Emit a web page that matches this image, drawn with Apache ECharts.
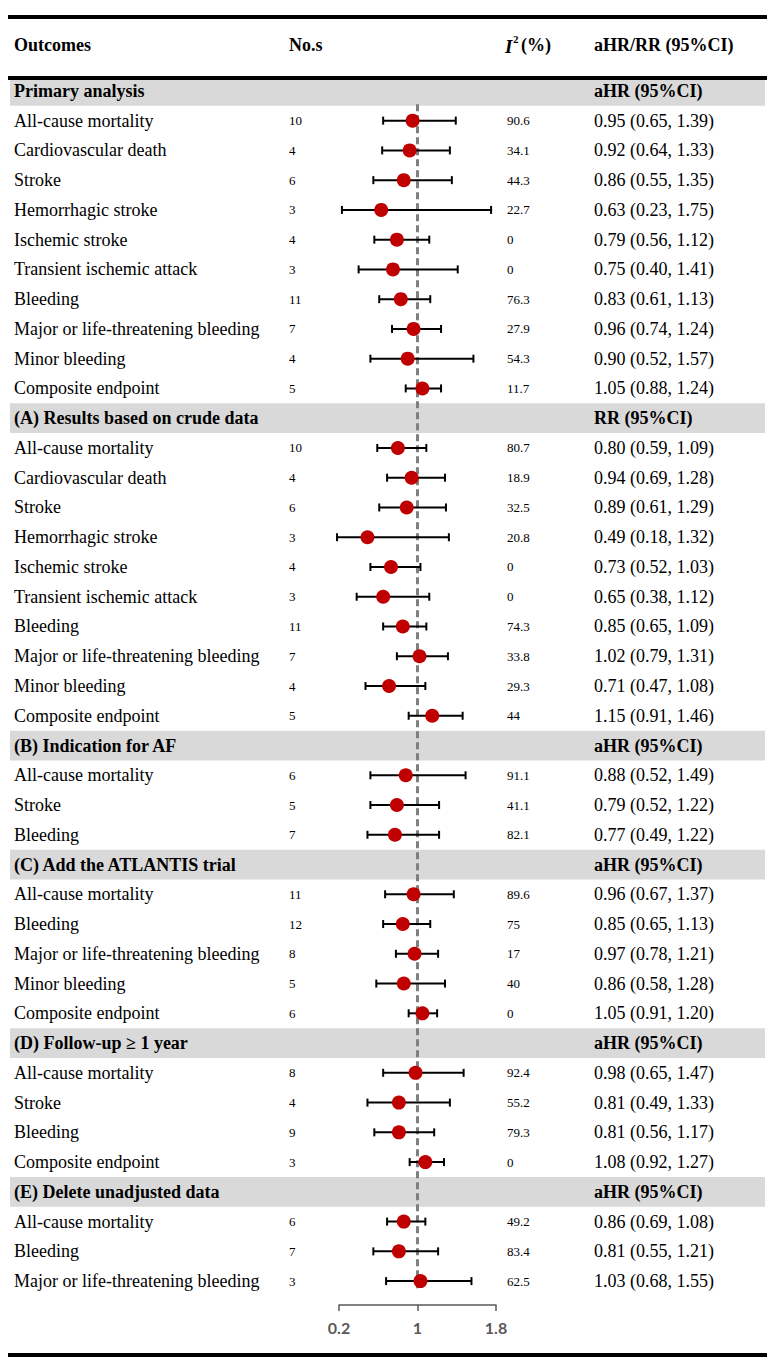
<!DOCTYPE html>
<html>
<head>
<meta charset="utf-8">
<script src="https://cdn.jsdelivr.net/npm/echarts@6/dist/echarts.min.js"></script>
<style>
html,body{margin:0;padding:0;background:#fff;}
#chart{width:775px;height:1369px;}
</style>
</head>
<body>
<div id="chart"></div>
<script>
const categories = ['Primary analysis','All-cause mortality','Cardiovascular death','Stroke','Hemorrhagic stroke','Ischemic stroke','Transient ischemic attack','Bleeding','Major or life-threatening bleeding','Minor bleeding','Composite endpoint',
'(A) Results based on crude data','All-cause mortality','Cardiovascular death','Stroke','Hemorrhagic stroke','Ischemic stroke','Transient ischemic attack','Bleeding','Major or life-threatening bleeding','Minor bleeding','Composite endpoint',
'(B) Indication for AF','All-cause mortality','Stroke','Bleeding',
'(C) Add the ATLANTIS trial','All-cause mortality','Bleeding','Major or life-threatening bleeding','Minor bleeding','Composite endpoint',
'(D) Follow-up \u2265 1 year','All-cause mortality','Stroke','Bleeding','Composite endpoint',
'(E) Delete unadjusted data','All-cause mortality','Bleeding','Major or life-threatening bleeding'];
const nos = [null,10,4,6,3,4,3,11,7,4,5, null,10,4,6,3,4,3,11,7,4,5, null,6,5,7, null,11,12,8,5,6, null,8,4,9,3, null,6,7,3];
const i2 = [null,90.6,34.1,44.3,22.7,0,0,76.3,27.9,54.3,11.7, null,80.7,18.9,32.5,20.8,0,0,74.3,33.8,29.3,44, null,91.1,41.1,82.1, null,89.6,75,17,40,0, null,92.4,55.2,79.3,0, null,49.2,83.4,62.5];
const est = [null,0.95,0.92,0.86,0.63,0.79,0.75,0.83,0.96,0.90,1.05, null,0.80,0.94,0.89,0.49,0.73,0.65,0.85,1.02,0.71,1.15, null,0.88,0.79,0.77, null,0.96,0.85,0.97,0.86,1.05, null,0.98,0.81,0.81,1.08, null,0.86,0.81,1.03];
const lo = [null,0.65,0.64,0.55,0.23,0.56,0.40,0.61,0.74,0.52,0.88, null,0.59,0.69,0.61,0.18,0.52,0.38,0.65,0.79,0.47,0.91, null,0.52,0.52,0.49, null,0.67,0.65,0.78,0.58,0.91, null,0.65,0.49,0.56,0.92, null,0.69,0.55,0.68];
const hi = [null,1.39,1.33,1.35,1.75,1.12,1.41,1.13,1.24,1.57,1.24, null,1.09,1.28,1.29,1.32,1.03,1.12,1.09,1.31,1.08,1.46, null,1.49,1.22,1.22, null,1.37,1.13,1.21,1.28,1.20, null,1.47,1.33,1.17,1.27, null,1.08,1.21,1.55];
const sectionMeasure = ['aHR (95%CI)','RR (95%CI)','aHR (95%CI)','aHR (95%CI)','aHR (95%CI)','aHR (95%CI)'];
const headerLabels = ['Outcomes','No.s','I','2','(%)','aHR/RR (95%CI)'];
const xTicks = [0.2, 1, 1.8];

const SERIF = '"Liberation Serif","Times New Roman",serif';
const isSec = est.map(v => v == null);
let k = 0;
const effText = est.map((v, i) => isSec[i] ? sectionMeasure[k++] :
  v.toFixed(2) + ' (' + lo[i].toFixed(2) + ', ' + hi[i].toFixed(2) + ')');
const rowIds = categories.map((c, i) => String(i));

const chart = echarts.init(document.getElementById('chart'), null, {renderer: 'svg'});

const richStyles = {
  b: {fontFamily: SERIF, fontWeight: 'bold', fontSize: 18, color: '#000'},
  n: {fontFamily: SERIF, fontSize: 18, color: '#000'},
  s: {fontFamily: SERIF, fontSize: 13, color: '#000'}
};
function catAxis(position, margin, fmt) {
  return {
    gridIndex: 1, type: 'category', data: rowIds, inverse: true, position: position, z: 20,
    axisLine: {show: false}, axisTick: {show: false}, splitLine: {show: false},
    axisLabel: {interval: 0, align: 'left', margin: margin, hideOverlap: false,
      formatter: (v) => fmt(Number(v)), rich: richStyles}
  };
}

const option = {
  animation: false,
  backgroundColor: '#fff',
  grid: [
    {left: 10, right: 10, top: 76, height: 1220, containLabel: false},
    {left: 339, width: 157, top: 76, height: 1220, containLabel: false}
  ],
  xAxis: [
    {gridIndex: 0, type: 'value', min: 0, max: 1, show: false},
    {gridIndex: 1, type: 'value', min: 0.2, max: 1.8, position: 'bottom', offset: 9, z: 20,
      axisLine: {show: true, lineStyle: {color: '#595959', width: 1.5}},
      axisTick: {show: true, length: 6, customValues: xTicks, lineStyle: {color: '#595959', width: 1.5}},
      axisLabel: {customValues: xTicks, margin: 14, fontFamily: 'Lato', fontWeight: 'bold', fontSize: 16, color: '#595959',
        formatter: v => String(v)},
      splitLine: {show: false}}
  ],
  yAxis: [
    {gridIndex: 0, type: 'category', data: rowIds, inverse: true, show: false},
    catAxis('left', 325, i => isSec[i] ? '{b|' + categories[i] + '}' : '{n|' + categories[i] + '}'),
    catAxis('left', 50, i => nos[i] == null ? '' : '{s|' + nos[i] + '}'),
    catAxis('right', 11, i => i2[i] == null ? '' : '{s|' + i2[i] + '}'),
    catAxis('right', 98, i => isSec[i] ? '{b|' + effText[i] + '}' : '{n|' + effText[i] + '}')
  ],
  series: [
    {
      type: 'bar', xAxisIndex: 0, yAxisIndex: 0, barWidth: '100%', silent: true,
      itemStyle: {color: '#d9d9d9'},
      data: isSec.map(s => s ? 1 : '-'), z: 1
    },
    {
      type: 'custom', xAxisIndex: 1, yAxisIndex: 1, silent: true, z: 3,
      data: [[1, 0]],
      encode: {x: 0, y: 1},
      renderItem: (params, api) => {
        const band = api.size([0, 1])[1];
        const top = api.coord([api.value(0), 0]);
        const bot = api.coord([api.value(0), categories.length - 1]);
        return {type: 'line', shape: {x1: top[0], y1: top[1] + band * 0.45, x2: bot[0], y2: bot[1] + band * 0.35},
          style: {stroke: '#7f7f7f', lineWidth: 3, lineDash: [7, 4]}};
      }
    },
    {
      type: 'custom', xAxisIndex: 1, yAxisIndex: 1, silent: true, z: 4,
      data: est.map((v, i) => v == null ? null : [lo[i], hi[i], i]).filter(d => d),
      encode: {x: [0, 1], y: 2},
      renderItem: (params, api) => {
        const y = api.value(2);
        const a = api.coord([api.value(0), y]);
        const b = api.coord([api.value(1), y]);
        const h = 4;
        const st = {stroke: '#000', lineWidth: 2};
        return {type: 'group', children: [
          {type: 'line', shape: {x1: a[0], y1: a[1], x2: b[0], y2: b[1]}, style: st},
          {type: 'line', shape: {x1: a[0], y1: a[1] - h, x2: a[0], y2: a[1] + h}, style: st},
          {type: 'line', shape: {x1: b[0], y1: b[1] - h, x2: b[0], y2: b[1] + h}, style: st}
        ]};
      }
    },
    {
      type: 'scatter', xAxisIndex: 1, yAxisIndex: 1, z: 5, silent: true,
      symbol: 'circle', symbolSize: 14,
      itemStyle: {color: '#c00000', opacity: 1},
      data: est.map((v, i) => v == null ? null : [v, i]).filter(d => d)
    }
  ],
  graphic: [
    {type: 'rect', z: 100, shape: {x: 8, y: 15, width: 759, height: 4}, style: {fill: '#000'}},
    {type: 'rect', z: 100, shape: {x: 8, y: 76, width: 759, height: 4}, style: {fill: '#000'}},
    {type: 'rect', z: 100, shape: {x: 8, y: 1353, width: 759, height: 4}, style: {fill: '#000'}},
    {type: 'text', z: 100, x: 14, y: 45, style: {text: headerLabels[0], font: 'bold 18px ' + SERIF, fill: '#000', verticalAlign: 'middle', textVerticalAlign: 'middle'}},
    {type: 'text', z: 100, x: 289, y: 45, style: {text: headerLabels[1], font: 'bold 18px ' + SERIF, fill: '#000', verticalAlign: 'middle', textVerticalAlign: 'middle'}},
    {type: 'text', z: 100, x: 505, y: 46, style: {text: headerLabels[2], font: 'italic bold 19px ' + SERIF, fill: '#000', verticalAlign: 'middle', textVerticalAlign: 'middle'}},
    {type: 'text', z: 100, x: 513, y: 39, style: {text: headerLabels[3], font: 'bold 11px ' + SERIF, fill: '#000', verticalAlign: 'middle', textVerticalAlign: 'middle'}},
    {type: 'text', z: 100, x: 521, y: 45, style: {text: headerLabels[4], font: 'bold 18px ' + SERIF, fill: '#000', verticalAlign: 'middle', textVerticalAlign: 'middle'}},
    {type: 'text', z: 100, x: 594, y: 45, style: {text: headerLabels[5], font: 'bold 18px ' + SERIF, fill: '#000', verticalAlign: 'middle', textVerticalAlign: 'middle'}}
  ]
};
chart.setOption(option);
</script>
</body>
</html>
